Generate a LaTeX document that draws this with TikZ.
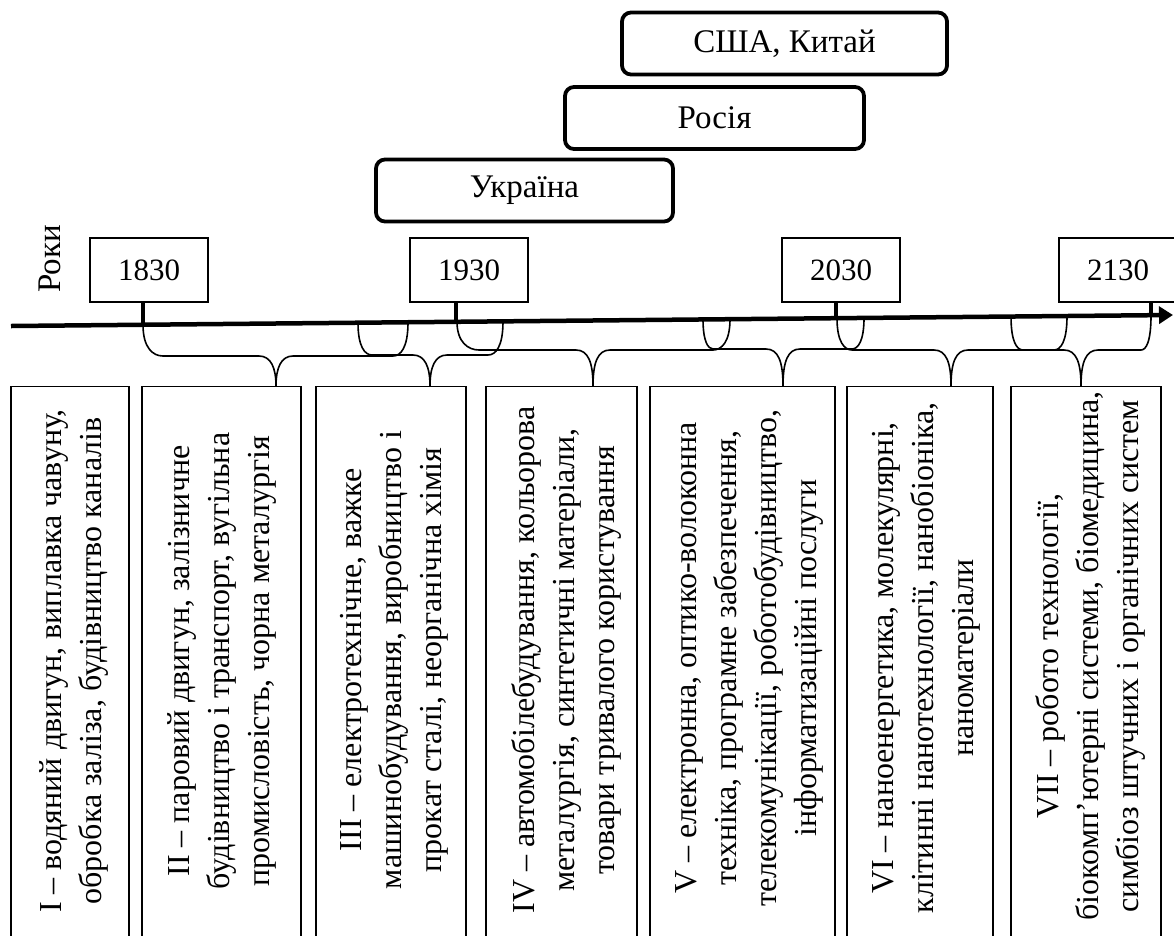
\documentclass[tikz,border=0pt]{standalone}
\usepackage{fontspec}
\setmainfont{Liberation Serif}
\usetikzlibrary{arrows.meta,positioning,calc}

\begin{document}
\begin{tikzpicture}[x=1pt, y=-1pt,
    yearbox/.style={draw, line width=1.4pt, minimum width=118pt, minimum height=64pt, inner sep=0pt, font=\fontsize{31}{36}\selectfont},
    landbox/.style={draw, line width=3.8pt, rounded corners=9pt, minimum height=62pt, inner sep=0pt, font=\fontsize{33}{38}\selectfont},
    erabox/.style={draw, line width=1.4pt, anchor=north, minimum height=570pt, inner sep=0pt},
    eratext/.style={rotate=90, align=center, inner sep=0pt, font=\fontsize{32}{40}\selectfont},
    brace/.style={line width=1.6pt},
    yeartick/.style={line width=4pt},
    axisline/.style={line width=4.5pt, -{Triangle[length=14pt,width=17pt]}}
]
\useasboundingbox (0,0) rectangle (1174,935);
\clip (0,0) rectangle (1174,935);

% Countries
\node[landbox, minimum width=297pt] (ua) at (524.5,190.5) {Україна};
\node[landbox, minimum width=299pt] (ru) at (714.5,118) {Росія};
\node[landbox, minimum width=325pt] (us) at (784.5,43.5) {США, Китай};

% Time axis
\node[rotate=90, font=\fontsize{33}{38}\selectfont] (roky) at (50,259) {Роки};
\coordinate (ax0) at (11,326);
\coordinate (ax1) at (1173,315);
\draw[axisline] (ax0) -- (ax1);

% Years with ticks
\foreach \yy/\xk/\xc in {1830/143/149, 1930/456/469, 2030/836/841, 2130/1151/1118} {
    \node[yearbox] (y\yy) at (\xc,270) {\yy};
    \pgfmathsetmacro{\ya}{326-11*(\xk-11)/1162}
    \coordinate (k\yy) at (\xk,\ya);
    \draw[yeartick] (k\yy) -- (k\yy |- y\yy.south);
}

% Technological modes
\foreach \en/\ex/\ew in {1/70/118, 2/221.5/159, 3/391/150, 4/561.5/151, 5/742.5/185, 6/920/146, 7/1086/150}
    \node[erabox, minimum width=\ew pt] (e\en) at (\ex,386) {};

\node[eratext] (t1) at (74,661) {I – водяний двигун, виплавка чавуну,\\обробка заліза, будівництво каналів};
\node[eratext] (t2) at (222,661) {II – паровий двигун, залізничне\\будівництво і транспорт, вугільна\\промисловість, чорна металургія};
\node[eratext] (t3) at (394,660) {III – електротехнічне, важке\\машинобудування,  виробництво і\\прокат сталі, неорганічна хімія};
\node[eratext] (t4) at (566,660) {IV – автомобілебудування, кольорова\\металургія, синтетичні матеріали,\\товари тривалого користування};
\node[eratext] (t5) at (749,658) {V – електронна, оптико-волоконна\\техніка, програмне забезпечення,\\телекомунікації, роботобудівництво,\\інформатизаційні послуги};
\node[eratext] (t6) at (926,658) {VI – наноенергетика, молекулярні,\\клітинні нанотехнології, нанобіоніка,\\наноматеріали};
\node[eratext] (t7) at (1090,656) {VII – робото технології,\\біокомп’ютерні системи, біомедицина,\\симбіоз штучних і органічних систем};

% Braces from the axis to the boxes
\foreach \bn/\lft/\dlf/\tip/\rgt/\drt/\hy in {
    2/143/20/276/408/15/356,
    3/358/14/430/503/15/355,
    4/457/22/593/730/17/350,
    5/703/10/783/864/12/349,
    6/837/15/951/1067/13/350,
    7/1011/12/1081/1151/10/350
} {
    \pgfmathsetmacro{\yl}{326-11*(\lft-11)/1162}
    \pgfmathsetmacro{\yr}{326-11*(\rgt-11)/1162}
    \coordinate (bl\bn) at (\lft,\yl);
    \coordinate (br\bn) at (\rgt,\yr);
    \coordinate (bt\bn) at (\tip,386);
    \draw[brace] (bl\bn) .. controls (\lft,\hy-8) and (\lft+\dlf/2,\hy) .. (\lft+\dlf,\hy)
        -- (\tip-17,\hy) .. controls (\tip-5,\hy) and (\tip,\hy+12) .. (bt\bn)
        .. controls (\tip,\hy+12) and (\tip+5,\hy) .. (\tip+17,\hy)
        -- (\rgt-\drt,\hy) .. controls (\rgt-\drt/2,\hy) and (\rgt,\hy-8) .. (br\bn);
}
\end{tikzpicture}
\end{document}
